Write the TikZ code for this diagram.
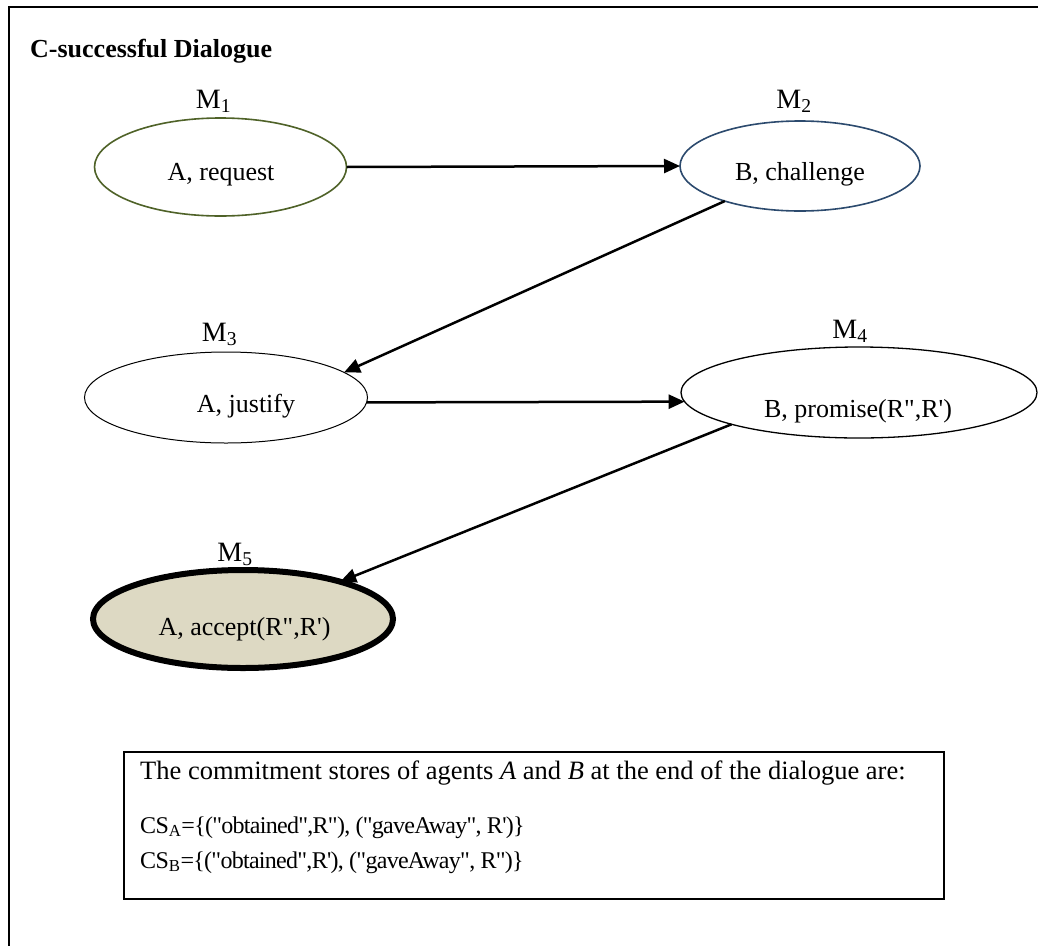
\documentclass[tikz,border=0pt]{standalone}
\usepackage{fontspec}
\setmainfont{Liberation Serif}[Ligatures=TeXOff]
\newfontfamily\condfont{Liberation Serif}[Ligatures=TeXOff, LetterSpace=-3]
\usetikzlibrary{shapes.geometric,arrows.meta}
\definecolor{olivec}{HTML}{4F6228}
\definecolor{bluec}{HTML}{2C4A6E}
\definecolor{tanc}{HTML}{DDD9C3}
\begin{document}
\begin{tikzpicture}[x=1pt,y=-1pt,
  ell/.style={ellipse, draw, inner sep=0pt, outer sep=0pt},
  lab/.style={anchor=base, font=\fontsize{28}{30}\selectfont, inner sep=0pt},
  txt/.style={anchor=base, font=\fontsize{26}{28}\selectfont, inner sep=0pt},
  boxt/.style={anchor=base west, font=\fontsize{26.5}{28}\selectfont, inner sep=0pt},
  cst/.style={anchor=base west, font=\fontsize{24}{26}\condfont, inner sep=0pt},
  arr/.style={line width=2.5pt, -{Triangle[length=16pt,width=14pt]}}]
\useasboundingbox (0,0) rectangle (1038,945);
\clip (0,0) rectangle (1038,945);
\fill[white] (0,0) rectangle (1038,945);
% outer frame
\draw[line width=2.3pt] (9.3,1100) -- (9.3,7) -- (1100,7);
% title
\node[anchor=base west, inner sep=0pt, font=\fontsize{26}{28}\selectfont\bfseries] (title) at (30,57) {C-successful Dialogue};
% ellipses
\node[ell, draw=olivec, line width=1.6pt, minimum width=252pt, minimum height=98pt] (m1) at (220.5,167) {};
\node[ell, draw=bluec, line width=1.6pt, minimum width=240pt, minimum height=90pt] (m2) at (800,166) {};
\node[ell, line width=1pt, minimum width=283pt, minimum height=91pt] (m3) at (226,397.5) {};
\node[ell, line width=1.3pt, minimum width=356pt, minimum height=91pt] (m4) at (859,392.5) {};
\node[ell, fill=tanc, line width=6pt, minimum width=300pt, minimum height=98pt] (m5) at (243,619) {};
% texts
\node[txt] (t1) at (221,180) {A, request};
\node[txt] (t2) at (800,180) {B, challenge};
\node[txt] (t3) at (246,412) {A, justify};
\node[txt] (t4) at (858,417) {B, promise(R",R')};
\node[txt] (t5) at (244.5,635) {A, accept(R",R')};
% labels
\node[lab] (l1) at (213.5,108) {M\textsubscript{1}};
\node[lab] (l2) at (794,108) {M\textsubscript{2}};
\node[lab] (l3) at (219.5,341) {M\textsubscript{3}};
\node[lab] (l4) at (850,338) {M\textsubscript{4}};
\node[lab] (l5) at (235,561) {M\textsubscript{5}};
% arrows
\draw[arr] (m1.east) -- (m2.west);
\draw[arr] (m2.205) -- (m3.12);
\draw[arr] (m3.-2) -- (m4.183);
\draw[arr] (m4.194) -- (m5.21);
% commitment box
\node[draw, line width=1.8pt, minimum width=820pt, minimum height=147pt, inner sep=0pt, anchor=north west] (csbox) at (123,751) {};
\node[boxt] (b1) at (140,779) {The commitment stores of agents \textit{A} and \textit{B} at the end of the dialogue are:};
\node[cst] (b2) at (140,833) {CS\textsubscript{A}=\{("obtained",R"), ("gaveAway", R')\}};
\node[cst] (b3) at (140,868) {CS\textsubscript{B}=\{("obtained",R'), ("gaveAway", R")\}};
\end{tikzpicture}
\end{document}
